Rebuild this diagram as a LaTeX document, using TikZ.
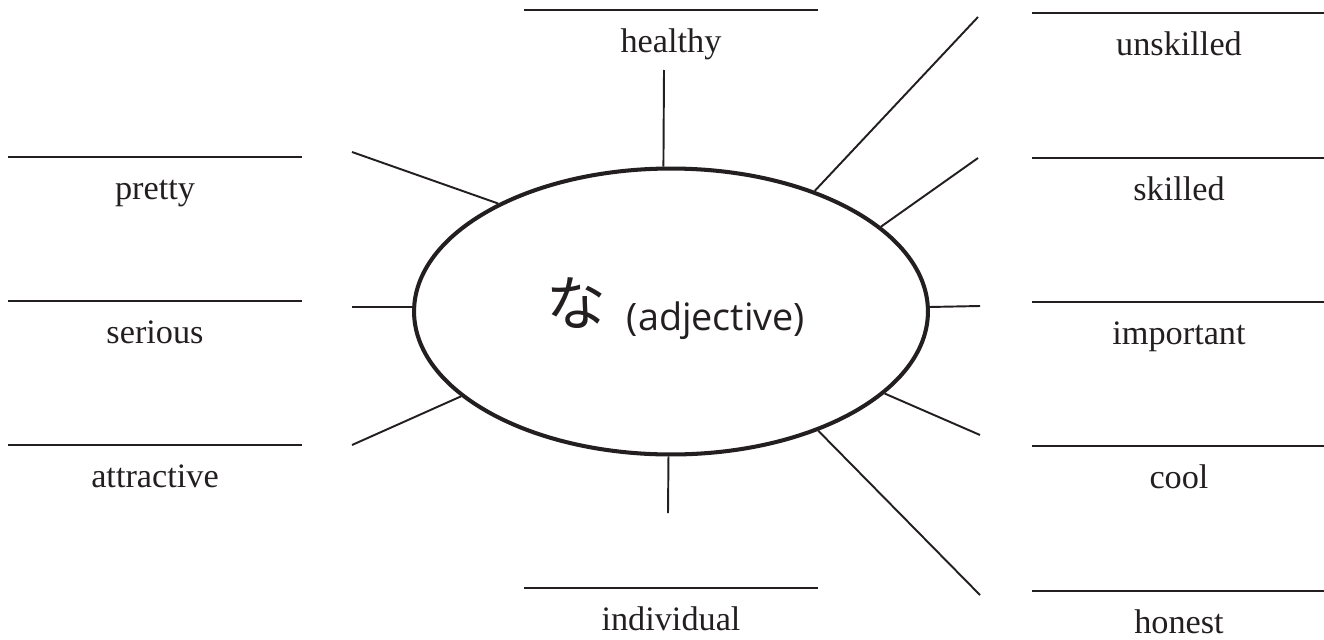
\documentclass[tikz,border=0pt]{standalone}
\usepackage{fontspec}
\setmainfont{Liberation Serif}
\newfontfamily\kanafont{Noto Sans CJK JP}
\newfontfamily\tagfont{Open Sans}
\usetikzlibrary{shapes.geometric}
\definecolor{ink}{HTML}{231F20}

\begin{document}
\begin{tikzpicture}[
  x=0.02cm, y=-0.02cm,
  hub/.style={draw=ink, ellipse, line width=2.3pt, fill=white,
              minimum width=10.28cm, minimum height=5.72cm, inner sep=0pt},
  spoke/.style={draw=ink, line width=1.1pt},
  rule/.style={draw=ink, line width=0.85pt},
  word/.style={font=\fontsize{19.5}{23}\selectfont, text=ink, anchor=north,
               minimum width=5.86cm, inner xsep=0pt, inner ysep=0pt,
               text height=0.84cm, text depth=0.15cm},
]

  \useasboundingbox (0,0) rectangle (1324,639);

  % Centre oval

  \node[hub] (hub) at (671,311.5) {};
  \node[font=\kanafont\fontsize{34}{34}\selectfont, text=ink] (na) at (576,303) {な};
  \node[font=\tagfont\fontsize{21.5}{25}\selectfont, text=ink, anchor=base] (tag) at (716,330) {(adjective)};

  % Blanks — left column

  \node[word] (pretty)     at (155,157) {pretty};
  \node[word] (serious)    at (155,301) {serious};
  \node[word] (attractive) at (155,445) {attractive};

  % Blanks — top and bottom

  \node[word] (healthy)    at (671,10)  {healthy};
  \node[word] (individual) at (671,588) {individual};

  % Blanks — right column

  \node[word] (unskilled)  at (1179,13)  {unskilled};
  \node[word] (skilled)    at (1179,158) {skilled};
  \node[word] (important)  at (1179,302) {important};
  \node[word] (cool)       at (1179,446) {cool};
  \node[word] (honest)     at (1179,591) {honest};

  \foreach \w in {pretty,serious,attractive,healthy,individual,
                  unskilled,skilled,important,cool,honest}
    \draw[rule] (\w.north west) -- (\w.north east);

  % Spokes out of the oval

  \foreach \ang/\px/\py [count=\i] in {93/664/70, 40.4/978/17, 22/978/158,
      1.2/980/306, -21.2/980/435, -39.3/980/595, -91/668/513,
      202/352/445, 179/352/307, 148.9/352/152} {
    \coordinate (tip\i) at (\px,\py);
    \draw[spoke] (hub.\ang) -- (tip\i);
  }

\end{tikzpicture}
\end{document}
